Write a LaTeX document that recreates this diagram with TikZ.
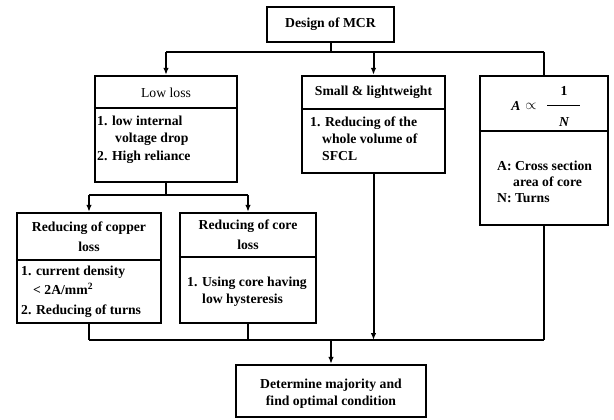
\documentclass[tikz,border=0pt]{standalone}
\usepackage{fontspec}
\setmainfont{Liberation Serif}
\usetikzlibrary{arrows.meta}
\begin{document}
\begin{tikzpicture}[x=1pt,y=-1pt,
  box/.style={draw,line width=2.3pt,inner sep=0pt},
  conn/.style={line width=2pt},
  arr/.style={line width=2pt,-{Latex[length=7pt,width=5.5pt]}},
  divl/.style={line width=2pt},
  hdr/.style={inner sep=0pt,align=center,font=\fontsize{13.7}{20}\selectfont\bfseries},
  hdrl/.style={inner sep=0pt,align=center,font=\fontsize{13.7}{20}\selectfont},
  body/.style={inner sep=0pt,align=left,anchor=west,font=\fontsize{13.7}{#1}\selectfont\bfseries},
  body/.default=17.5]
\useasboundingbox (0,0) rectangle (614,420);
% boxes
\node[box,minimum width=127pt,minimum height=35pt] (design) at (330.5,24.5) {};
\node[box,minimum width=142pt,minimum height=106pt] (lowloss) at (166,129) {};
\node[box,minimum width=143pt,minimum height=97pt] (small) at (373.5,124.5) {};
\node[box,minimum width=128pt,minimum height=149pt] (right) at (544,150.5) {};
\node[box,minimum width=144pt,minimum height=110pt] (copper) at (89,268) {};
\node[box,minimum width=136pt,minimum height=110pt] (core) at (248,268) {};
\node[box,minimum width=190pt,minimum height=52pt] (bottom) at (331,391) {};
% dividers
\coordinate (d1) at (0,108);
\coordinate (d2) at (0,109);
\coordinate (d3) at (0,131);
\coordinate (d4) at (0,260);
\coordinate (d5) at (0,257);
\draw[divl] (lowloss.west |- d1) -- (lowloss.east |- d1);
\draw[divl] (small.west |- d2) -- (small.east |- d2);
\draw[divl] (right.west |- d3) -- (right.east |- d3);
\draw[divl] (copper.west |- d4) -- (copper.east |- d4);
\draw[divl] (core.west |- d5) -- (core.east |- d5);
% texts
\node[hdr] (tdesign) at (330.5,24) {Design of MCR};
\node[hdrl] (tlowh) at (166,93) {Low loss};
\node[body] (tlowb) at (97,139.5) {1. low internal\\\hspace*{18pt}voltage drop\\2. High reliance};
\node[hdr] (tsmallh) at (373.5,92) {Small \& lightweight};
\node[body=17] (tsmallb) at (310,139) {1. Reducing of the\\\hspace*{12pt}whole volume of\\\hspace*{12pt}SFCL};
\node[inner sep=0pt,font=\fontsize{13.7}{16}\selectfont\bfseries\itshape] (tA) at (516,106) {A};
\node[inner sep=0pt,font=\fontsize{13.7}{16}\selectfont] (tprop) at (531,106) {$\propto$};
\node[inner sep=0pt,font=\fontsize{13.7}{16}\selectfont\bfseries] (tone) at (564,91) {1};
\node[inner sep=0pt,font=\fontsize{13.7}{16}\selectfont\bfseries\itshape] (tN) at (564,122) {N};
\coordinate (fb1) at (547,106);
\coordinate (fb2) at (580,106);
\draw[line width=1pt] (fb1) -- (fb2);
\node[body=16] (trightb) at (497,182) {A: Cross section\\\hspace*{16pt}area of core\\N: Turns};
\node[hdr] (tcopperh) at (89,237) {Reducing of copper\\loss};
\node[body=19.5] (tcopperb) at (21,291.5) {1. current density\\\hspace*{12pt}< 2A/mm\textsuperscript{2}\\2. Reducing of turns};
\node[hdr] (tcoreh) at (248,235) {Reducing of core\\loss};
\node[body=17] (tcoreb) at (187,291.5) {1. Using core having\\\hspace*{15pt}low hysteresis};
\node[hdr,font=\fontsize{13.7}{17}\selectfont\bfseries] (tbottom) at (331,393.5) {Determine majority and\\find optimal condition};
% connectors level 1
\coordinate (jl) at (166,52);
\coordinate (jr) at (544,52);
\draw[conn] (design.south) -- (design.south |- jl);
\draw[conn] (jl) -- (jr);
\draw[arr] (jl) -- (lowloss.north);
\draw[arr] (small.north |- jl) -- (small.north);
\draw[conn] (jr) -- (right.north);
% level 2
\coordinate (ml) at (89,195);
\coordinate (mr) at (248,195);
\draw[conn] (lowloss.south) -- (lowloss.south |- ml);
\draw[conn] (ml) -- (mr);
\draw[arr] (ml) -- (copper.north);
\draw[arr] (mr) -- (core.north);
% bottom collection
\coordinate (bl) at (89,340);
\coordinate (br) at (544,340);
\draw[conn] (copper.south) -- (bl);
\draw[conn] (core.south) -- (core.south |- bl);
\draw[arr] (small.south) -- (small.south |- bl);
\draw[conn] (right.south) -- (br);
\draw[conn] (bl) -- (br);
\draw[arr] (bottom.north |- bl) -- (bottom.north);
\end{tikzpicture}
\end{document}
